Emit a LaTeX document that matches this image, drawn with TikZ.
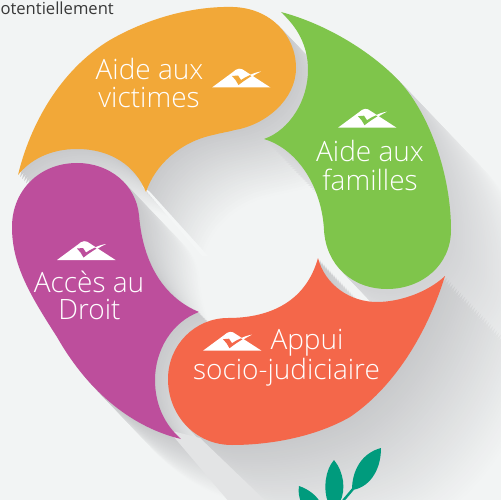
\documentclass[tikz,border=0pt]{standalone}
\usepackage{fontspec}
\setmainfont{Open Sans}
\newfontfamily\lightfont{Open Sans Light}
\definecolor{bgc}{HTML}{F2F4F4}
\definecolor{shc}{HTML}{C8C9CB}
\definecolor{shg}{HTML}{D2D3D5}
\definecolor{bandc}{HTML}{E3E4E5}
\definecolor{orangep}{HTML}{F2A838}
\definecolor{greenp}{HTML}{7FC54B}
\definecolor{redp}{HTML}{F4674A}
\definecolor{purplep}{HTML}{BD4E9C}
\definecolor{leaf}{HTML}{009B7D}
\def\pOrange{(18,175) .. controls (30,125) and (60,70) .. (110,40) .. controls (150,17) and (195,6) .. (233,7) .. controls (270,8) and (296,35) .. (296,68) .. controls (296,100) and (265,125) .. (235,130) .. controls (228,132) and (220,133) .. (213,135) .. controls (180,142) and (155,165) .. (146,192) .. controls (135,165) and (110,149) .. (77,149) .. controls (50,149) and (30,160) .. (18,175) -- cycle}
\def\pGreen{(281,12) .. controls (330,25) and (375,55) .. (400,82) .. controls (430,115) and (451,175) .. (451,230) .. controls (451,265) and (422,289) .. (387,289) .. controls (352,289) and (326,265) .. (324,230) .. controls (322,190) and (300,150) .. (264,139) .. controls (290,130) and (308,100) .. (308,70) .. controls (308,45) and (297,27) .. (281,12) -- cycle}
\def\pRed{(318,258) .. controls (325,285) and (350,302) .. (377,302) .. controls (400,302) and (428,292) .. (445,276) .. controls (425,340) and (390,390) .. (350,417) .. controls (315,437) and (270,445) .. (232,445) .. controls (195,445) and (168,415) .. (168,379) .. controls (168,345) and (195,318) .. (228,318) .. controls (265,318) and (305,305) .. (318,258) -- cycle}
\def\pPurple{(77,163) .. controls (110,163) and (136,185) .. (139,215) .. controls (143,265) and (165,298) .. (199,312) .. controls (172,322) and (155,350) .. (155,380) .. controls (155,405) and (165,425) .. (181,439) .. controls (135,428) and (90,395) .. (57,337) .. controls (30,295) and (12,265) .. (12,227) .. controls (12,190) and (40,163) .. (77,163) -- cycle}
\newcommand\shadowstep[4]{% path, d, max, colour
  \ifdim #2pt<#3pt\relax
    \pgfmathsetmacro\pct{100*(#2/#3)}
    \fill[bgc!\pct!#4,shift={(#2,1.05*#2)}] #1;
  \fi}
\newcommand\logomark[3]{%
  \begin{scope}[shift={(#1,#2)}]
    \fill[white] (0,0) -- (21,-15.5) .. controls (25,-19.5) and (29,-20) .. (33,-16.5) -- (58.5,0) -- cycle;
    \fill[#3] (20,-11.5) -- (26,-12) .. controls (27,-10) and (28,-9) .. (29,-7.5) .. controls (34,-11) and (40,-13.5) .. (47,-15.5) .. controls (38,-11) and (31,-6) .. (26.5,-2.5) .. controls (25,-6) and (22.5,-9) .. (20,-11.5) -- cycle;
    \fill[white] (38,-12.5) .. controls (41,-14) and (45,-15.5) .. (49,-16) .. controls (46,-14.5) and (43,-13) .. (40,-11) -- cycle;
  \end{scope}}
\tikzset{
  lbl/.style={anchor=base,text=white,inner sep=0pt,font=\lightfont\fontsize{28}{28}\selectfont},
}
\begin{document}
\begin{tikzpicture}[x=1pt,y=-1pt]
\clip (0,0) rectangle (501,500);
\fill[bgc] (0,0) rectangle (501,500);
\foreach \d in {92,90,...,2}{
  \shadowstep{\pOrange}{\d}{60}{shc}
  \shadowstep{\pPurple}{\d}{62}{shc}
  \shadowstep{\pGreen}{\d}{90}{shg}
  \shadowstep{\pRed}{\d}{94}{shc}
}
\fill[bgc!85!white] (142,186) -- (150,192) -- (208,256) -- (202,256) -- cycle;
\fill[bandc] (168,430) -- (200,438) -- (275,510) -- (236,510) -- cycle;
\fill[orangep] \pOrange;
\fill[greenp] \pGreen;
\fill[purplep] \pPurple;
\fill[redp] \pRed;
% leaves
\fill[leaf] (381,448) .. controls (362,453) and (352,470) .. (352,490) .. controls (368,488) and (381,472) .. (381,448) -- cycle;
\fill[leaf] (334,460) .. controls (325,470) and (323,490) .. (328,502) -- (340,502) .. controls (346,490) and (344,472) .. (334,460) -- cycle;
\fill[leaf] (299,486) .. controls (298,492) and (299,497) .. (301,502) -- (320,502) .. controls (316,495) and (308,489) .. (299,486) -- cycle;
\draw[leaf,line width=2.4pt] (342,502) -- (353,489);
% logos
\logomark{212}{87.5}{orangep}
\logomark{338}{127.7}{greenp}
\logomark{203}{350.7}{redp}
\logomark{57}{260}{purplep}
% text
\node[anchor=base east,inner sep=0pt,text=black!78,font=\fontsize{16.6}{18}\selectfont] (note) at (114,15) {potentiellement};
\node[lbl] (o1) at (149.5,80) {Aide aux};
\node[lbl] (o2) at (149,108) {victimes};
\node[lbl] (g1) at (370,162) {Aide aux};
\node[lbl] (g2) at (370,190) {familles};
\node[lbl] (r1) at (307,349) {Appui};
\node[lbl] (r2) at (286.5,379) {socio-judiciaire};
\node[lbl] (p1) at (89,292) {Accès au};
\node[lbl] (p2) at (89.5,319) {Droit};
\end{tikzpicture}
\end{document}
